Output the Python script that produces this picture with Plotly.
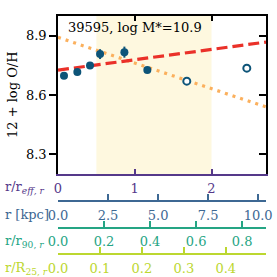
import plotly.graph_objects as go
import numpy as np

# ---- data ----
r_reff_fit = [0.078, 0.252, 0.417, 0.548, 0.865, 1.164]
oh_fit = [8.697, 8.717, 8.749, 8.807, 8.817, 8.726]
oh_err = [0.008, 0.008, 0.012, 0.025, 0.028, 0.010]
r_reff_out = [1.678, 2.46]
oh_out = [8.670, 8.736]
red_fit = {"intercept": 8.726, "slope": 0.0524}
orange_fit = {"intercept": 8.892, "slope": -0.13}
shade_range = [0.5, 2.0]
label_text = "39595, log M*=10.9"

x_max_reff = 2.71
reff_kpc = 3.835
r90_per_reff = 0.3335
r25_per_reff = 0.183

reff_ticks = [0, 1, 2]
kpc_ticks = [0, 2.5, 5, 7.5, 10]
r90_ticks = [0, 0.2, 0.4, 0.6, 0.8]
r25_ticks = [0, 0.1, 0.2, 0.3, 0.4]

FONT = "DejaVu Serif"
C_PURPLE = "#55398a"
C_BLUE = "#3d6893"
C_GREEN = "#25a584"
C_YEL = "#bcd730"
C_MARK = "#0d5478"

fig = go.Figure()

fig.add_shape(type="rect", xref="x", yref="paper", x0=shade_range[0], x1=shade_range[1],
              y0=0.3755, y1=1, fillcolor="#fef8df", line_width=0, layer="below")

xl = np.array([0, x_max_reff])
fig.add_trace(go.Scatter(x=xl, y=orange_fit["intercept"] + orange_fit["slope"] * xl,
                         mode="lines", line=dict(color="#fbb05d", width=3.2, dash="3px,5px"),
                         showlegend=False))
fig.add_trace(go.Scatter(x=xl, y=red_fit["intercept"] + red_fit["slope"] * xl,
                         mode="lines", line=dict(color="#ea3129", width=3.2, dash="11px,5px"),
                         showlegend=False))
fig.add_trace(go.Scatter(x=r_reff_fit, y=oh_fit, mode="markers",
                         marker=dict(color=C_MARK, size=8),
                         error_y=dict(type="data", array=oh_err, color=C_MARK, thickness=2, width=0),
                         showlegend=False))
fig.add_trace(go.Scatter(x=r_reff_out, y=oh_out, mode="markers",
                         marker=dict(color="white", size=7, line=dict(color=C_MARK, width=2)),
                         showlegend=False))

# empty traces to register extra axes
for xa, ya in [("x2", "y"), ("x3", "y"), ("x4", "y"), ("x5", "y"), ("x6", "y"),
               ("x7", "y"), ("x8", "y"), ("x9", "y"), ("x", "y2")]:
    fig.add_trace(go.Scatter(x=[], y=[], xaxis=xa, yaxis=ya, showlegend=False))

tf = dict(family=FONT, size=13)


def label_axis(rng, pos, color, vals, fmt):
    # tick labels only (transparent outside ticks push labels down)
    d = dict(range=rng, overlaying="x", side="bottom", showgrid=False, zeroline=False,
             showline=False, ticks="outside", ticklen=2, tickcolor="rgba(0,0,0,0)",
             tickvals=vals, ticktext=[fmt.format(v) for v in vals], ticklabeloverflow="allow",
             automargin=False, tickfont=dict(family=FONT, size=13, color=color))
    if pos is None:
        d["anchor"] = "y"
    else:
        d["anchor"] = "free"
        d["position"] = pos
    return d


def line_axis(rng, pos, color, vals):
    d = dict(range=rng, overlaying="x", side="bottom", showgrid=False, zeroline=False,
             showline=True, linecolor=color, linewidth=1.5, ticks="inside", ticklen=6,
             tickwidth=1.5, tickcolor=color, tickvals=vals, showticklabels=False,
             automargin=False)
    if pos is None:
        d["anchor"] = "y"
        d["ticklen"] = 5
    else:
        d["anchor"] = "free"
        d["position"] = pos
    return d


r_reff = [0, x_max_reff]
r_kpc = [0, x_max_reff * reff_kpc]
r_r90 = [0, x_max_reff * r90_per_reff]
r_r25 = [0, x_max_reff * r25_per_reff]

xaxis_main = label_axis(r_reff, None, C_PURPLE, reff_ticks, "{:g}")
xaxis_main.pop("overlaying")
xaxis_main["domain"] = [0, 1]

fig.update_layout(
    width=277, height=277,
    margin=dict(l=58, r=11, t=16, b=8, autoexpand=False),
    paper_bgcolor="white", plot_bgcolor="rgba(0,0,0,0)",
    font=dict(family=FONT, size=13, color="black"),
    xaxis=xaxis_main,
    xaxis6=line_axis(r_reff, None, C_PURPLE, reff_ticks),
    xaxis5=dict(range=r_reff, overlaying="x", side="top", anchor="y", automargin=False,
                showgrid=False, zeroline=False, showline=True, linecolor="black", linewidth=1.5,
                ticks="inside", ticklen=5, tickwidth=1.5, tickcolor="black",
                tickvals=reff_ticks, showticklabels=False),
    xaxis2=label_axis(r_kpc, 0.2688, C_BLUE, kpc_ticks, "{:.1f}"),
    xaxis7=line_axis(r_kpc, 0.2688, C_BLUE, kpc_ticks),
    xaxis3=label_axis(r_r90, 0.164, C_GREEN, r90_ticks, "{:.1f}"),
    xaxis8=line_axis(r_r90, 0.164, C_GREEN, r90_ticks),
    xaxis4=label_axis(r_r25, 0.0593, C_YEL, r25_ticks, "{:.1f}"),
    xaxis9=line_axis(r_r25, 0.0593, C_YEL, r25_ticks),
    yaxis=dict(range=[8.2, 9.0], domain=[0.3755, 1], anchor="x", automargin=False,
               showgrid=False, zeroline=False, showline=True, linecolor="black", linewidth=1.5,
               ticks="outside", ticklen=7, tickwidth=1.5, tickcolor="black",
               tickvals=[8.3, 8.6, 8.9], ticktext=["8.3", "8.6", "8.9"], tickfont=tf),
    yaxis2=dict(range=[8.2, 9.0], overlaying="y", side="right", anchor="x", automargin=False,
                showgrid=False, zeroline=False, showline=True, linecolor="black", linewidth=1.5,
                ticks="inside", ticklen=7, tickwidth=1.5, tickcolor="black",
                tickvals=[8.3, 8.6, 8.9], showticklabels=False),
)


def px_x(p):
    return (p - 58) / 208.0


def px_y(p):
    return (269 - p) / 253.0


anns = [
    dict(text="12 + log O/H", x=px_x(12), y=px_y(95), textangle=-90,
         xanchor="center", yanchor="middle", font=dict(family=FONT, size=13, color="black")),
    dict(text=label_text, x=px_x(66), y=px_y(28), xanchor="left", yanchor="middle",
         font=dict(family=FONT, size=13, color="black")),
    dict(text="r/r<sub><i>eff, r</i></sub>", x=px_x(3), y=px_y(187), xanchor="left", yanchor="middle",
         font=dict(family=FONT, size=13, color=C_PURPLE)),
    dict(text="r [kpc]", x=px_x(3), y=px_y(214), xanchor="left", yanchor="middle",
         font=dict(family=FONT, size=13, color=C_BLUE)),
    dict(text="r/r<sub>90, <i>r</i></sub>", x=px_x(3), y=px_y(241), xanchor="left", yanchor="middle",
         font=dict(family=FONT, size=13, color=C_GREEN)),
    dict(text="r/R<sub>25, <i>r</i></sub>", x=px_x(3), y=px_y(268), xanchor="left", yanchor="middle",
         font=dict(family=FONT, size=13, color=C_YEL)),
]
for a in anns:
    fig.add_annotation(xref="paper", yref="paper", showarrow=False, **a)

fig.write_html("out.html", config={"displayModeBar": False},
               post_script="document.body.style.margin='0';")
